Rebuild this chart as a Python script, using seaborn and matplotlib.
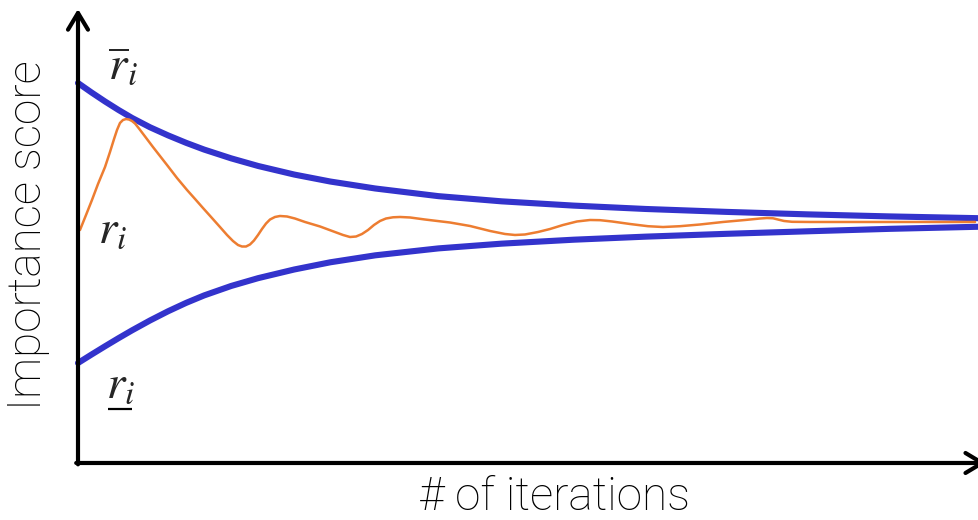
import matplotlib
matplotlib.use("Agg")
import matplotlib.pyplot as plt
import seaborn as sns
import pandas as pd

# Upper bound of the importance score over iterations
upper_iter = [0, 1.5, 3, 4.5, 6, 8, 10, 12, 14, 17, 20, 24, 28, 33, 40, 47, 55, 63, 72, 81, 90, 100]
upper_score = [84.44, 82.34, 80.34, 78.45, 76.68, 74.6, 72.8, 71.15, 69.65, 67.7, 66.0,
               64.1, 62.55, 61.0, 59.3, 58.15, 57.2, 56.45, 55.8, 55.25, 54.8, 54.4]

# Lower bound of the importance score over iterations
lower_iter = upper_iter
lower_score = [22.22, 24.1, 25.94, 27.74, 29.48, 31.68, 33.72, 35.58, 37.24, 39.34, 41.08,
               43.0, 44.6, 46.15, 47.69, 48.74, 49.62, 50.3, 50.93, 51.49, 52.03, 52.5]

# Observed importance score r_i
score_iter = [0.22, 0.89, 1.55, 2.22, 3.0, 3.55, 4.0, 4.33, 4.66, 4.99, 5.33, 5.66, 5.99, 6.33,
              6.77, 7.44, 8.32, 9.10, 9.88, 10.99, 12.10, 12.99, 13.87, 14.87, 15.76, 16.54,
              17.20, 17.76, 18.20, 18.65, 19.09, 19.53, 19.98, 20.42, 20.87, 21.31, 21.86,
              22.42, 23.20, 24.08, 25.19, 26.86, 28.52, 29.41, 30.19, 30.86, 31.52, 32.19,
              32.85, 33.52, 34.18, 34.96, 35.74, 36.85, 38.51, 41.29, 43.51, 45.73, 47.39,
              48.50, 49.61, 51.05, 52.39, 53.83, 55.38, 56.83, 57.94, 59.27, 61.27, 63.26,
              64.93, 66.81, 69.03, 71.59, 74.03, 75.69, 76.47, 77.14, 77.69, 78.36, 79.25,
              81.24, 85.68, 91.23, 99.56]
score_val = [51.78, 55.11, 58.44, 62.0, 65.78, 69.11, 72.0, 74.0, 75.56, 76.22, 76.44, 76.33,
             76.0, 75.44, 74.33, 72.56, 70.22, 68.22, 66.22, 63.33, 60.67, 58.67, 56.67, 54.44,
             52.44, 50.67, 49.33, 48.44, 48.11, 48.11, 48.56, 49.44, 50.67, 52.0, 53.22, 54.11,
             54.67, 54.89, 54.78, 54.33, 53.56, 52.56, 51.33, 50.67, 50.22, 50.33, 50.89, 51.78,
             52.89, 53.78, 54.33, 54.6, 54.67, 54.56, 54.11, 53.44, 52.67, 51.56, 50.89, 50.67,
             50.78, 51.33, 52.0, 52.89, 53.67, 54.0, 53.96, 53.67, 53.11, 52.62, 52.44, 52.62,
             53.0, 53.56, 54.0, 54.33, 54.44, 54.38, 54.11, 53.78, 53.6, 53.56, 53.56, 53.56,
             53.56]

BLUE = "#3333CC"
ORANGE = "#ED7D31"

sns.set_theme(style="white")
plt.rcParams["mathtext.fontset"] = "stix"

fig = plt.figure(figsize=(9.79, 5.20), dpi=100)
ax = fig.add_axes([0, 0, 1, 1])
ax.set_xlim(-8.657, 100)
ax.set_ylim(-12.67, 102.89)
ax.axis("off")

bounds = pd.DataFrame({"iteration": upper_iter, "upper": upper_score, "lower": lower_score})
obs = pd.DataFrame({"iteration": score_iter, "score": score_val})

line_kw = dict(estimator=None, solid_joinstyle="round")
sns.lineplot(data=bounds, x="iteration", y="upper", ax=ax, color=BLUE, lw=4.4,
             zorder=3, **line_kw)
sns.lineplot(data=bounds, x="iteration", y="lower", ax=ax, color=BLUE, lw=4.4,
             zorder=3, **line_kw)
sns.lineplot(data=obs, x="iteration", y="score", ax=ax, color=ORANGE, lw=1.8,
             zorder=4, **line_kw)

# Axes drawn as arrows
arrow = dict(arrowstyle="->,head_length=0.6,head_width=0.36", lw=3, color="black",
             shrinkA=0, shrinkB=0, mutation_scale=20)
ax.annotate("", xy=(0, 100.9), xytext=(0, -0.3), arrowprops=arrow, zorder=5)
ax.annotate("", xy=(100.8, 0), xytext=(-0.2, 0), arrowprops=arrow, zorder=5,
            annotation_clip=False)

# Axis titles
ax.text(-5.6, 50.7, "Importance score", rotation=90, ha="center", va="center",
        fontsize=33, fontfamily="Roboto", fontweight="light", color="black")
ax.text(52.9, -10.5, "# of iterations", ha="center", va="baseline",
        fontsize=33, fontfamily="Roboto", fontweight="light", color="black")

# Curve labels
ax.text(3.3, 85.1, r"$\overline{r}_i$", fontsize=34, ha="left", va="baseline")
ax.text(2.2, 48.9, r"$r_i$", fontsize=34, ha="left", va="baseline")
ax.text(3.1, 14.4, r"$r_i$", fontsize=34, ha="left", va="baseline")
ax.plot([3.33, 6.0], [12.0, 12.0], color="black", lw=1.6, solid_capstyle="butt")

fig.savefig("out.png", dpi=100)
